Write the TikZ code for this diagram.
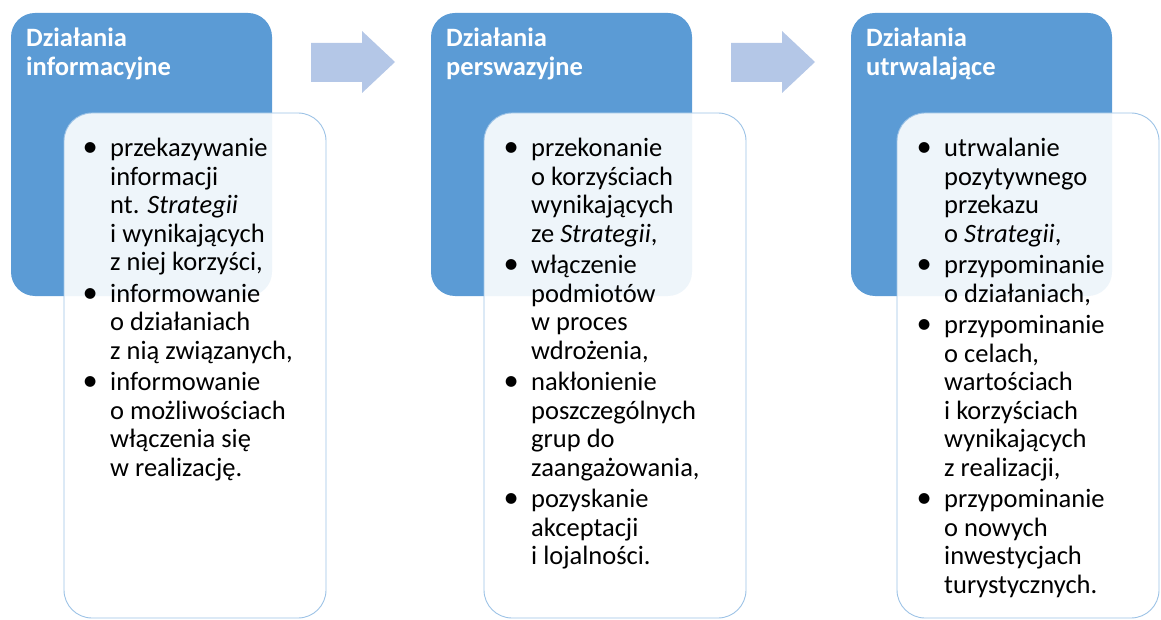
\documentclass[tikz,border=0pt]{standalone}
\usepackage{fontspec}
\setmainfont{Carlito}
\definecolor{hdrblue}{HTML}{5B9BD5}
\definecolor{arrowblue}{HTML}{B4C7E7}
\definecolor{boxline}{HTML}{9DC3E6}
\newcommand{\bul}{\makebox[0pt][c]{\scalebox{1.15}{\textbullet}}\hspace{20pt}}
\begin{document}
\begin{tikzpicture}[x=1pt,y=-1pt,
  header/.style={draw=none,fill=hdrblue,rounded corners=24pt},
  listbox/.style={draw=boxline,line width=0.9pt,fill=white,fill opacity=0.9,rounded corners=28pt},
  htext/.style={anchor=base west,inner sep=0pt,text=white,font=\fontsize{26.5}{28.5}\selectfont\bfseries},
  ltext/.style={anchor=base west,inner sep=0pt,text=black,font=\fontsize{26.5}{28.5}\selectfont},
  blockarrow/.style={fill=arrowblue,draw=none}]
\useasboundingbox (0,0) rectangle (1161,620);

% headers
\path[header] (11,13) rectangle (272,296);
\path[header] (431,13) rectangle (692,296);
\path[header] (851,13) rectangle (1112,296);

% header titles
\node[htext] (h1) at (26,47) {\begin{tabular}[t]{@{}l@{}}Działania\\informacyjne\end{tabular}};
\node[htext] (h2) at (446,47) {\begin{tabular}[t]{@{}l@{}}Działania\\perswazyjne\end{tabular}};
\node[htext] (h3) at (866,47) {\begin{tabular}[t]{@{}l@{}}Działania\\utrwalające\end{tabular}};

% arrows
\path[blockarrow] (311,43) -- (362,43) -- (362,31) -- (395,62) -- (362,93) -- (362,82) -- (311,82) -- cycle;
\path[blockarrow] (731,43) -- (782,43) -- (782,31) -- (815,62) -- (782,93) -- (782,82) -- (731,82) -- cycle;

% list boxes
\path[listbox] (64,113) rectangle (326,618);
\path[listbox] (484,113) rectangle (746,618);
\path[listbox] (897,113) rectangle (1159,618);

% list texts
\node[ltext] (l1) at (90,157) {\begin{tabular}[t]{@{}l@{}}
\bul przekazywanie\\ \hspace{20pt}informacji\\ \hspace{20pt}nt. \textit{Strategii}\\ \hspace{20pt}i wynikających\\ \hspace{20pt}z niej korzyści,\\[3pt]
\bul informowanie\\ \hspace{20pt}o działaniach\\ \hspace{20pt}z nią związanych,\\[3pt]
\bul informowanie\\ \hspace{20pt}o możliwościach\\ \hspace{20pt}włączenia się\\ \hspace{20pt}w realizację.
\end{tabular}};

\node[ltext] (l2) at (511,157) {\begin{tabular}[t]{@{}l@{}}
\bul przekonanie\\ \hspace{20pt}o korzyściach\\ \hspace{20pt}wynikających\\ \hspace{20pt}ze \textit{Strategii},\\[3pt]
\bul włączenie\\ \hspace{20pt}podmiotów\\ \hspace{20pt}w proces\\ \hspace{20pt}wdrożenia,\\[3pt]
\bul nakłonienie\\ \hspace{20pt}poszczególnych\\ \hspace{20pt}grup do\\ \hspace{20pt}zaangażowania,\\[3pt]
\bul pozyskanie\\ \hspace{20pt}akceptacji\\ \hspace{20pt}i lojalności.
\end{tabular}};

\node[ltext] (l3) at (924,157) {\begin{tabular}[t]{@{}l@{}}
\bul utrwalanie\\ \hspace{20pt}pozytywnego\\ \hspace{20pt}przekazu\\ \hspace{20pt}o \textit{Strategii},\\[3pt]
\bul przypominanie\\ \hspace{20pt}o działaniach,\\[3pt]
\bul przypominanie\\ \hspace{20pt}o celach,\\ \hspace{20pt}wartościach\\ \hspace{20pt}i korzyściach\\ \hspace{20pt}wynikających\\ \hspace{20pt}z realizacji,\\[3pt]
\bul przypominanie\\ \hspace{20pt}o nowych\\ \hspace{20pt}inwestycjach\\ \hspace{20pt}turystycznych.
\end{tabular}};
\end{tikzpicture}
\end{document}
